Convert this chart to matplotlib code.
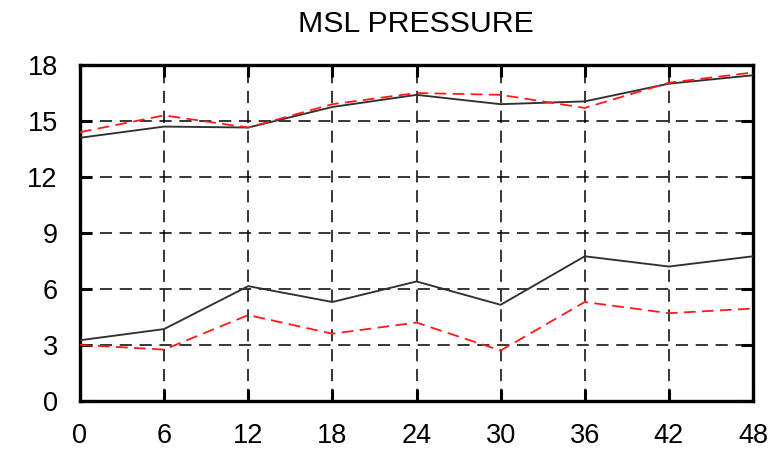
import matplotlib
matplotlib.use("Agg")
import matplotlib.pyplot as plt

plt.rcParams['font.family'] = ['Liberation Sans', 'DejaVu Sans']

# forecast hours
hours = [0, 6, 12, 18, 24, 30, 36, 42, 48]

# upper pair of curves
upper_black = [14.1, 14.7, 14.65, 15.75, 16.4, 15.9, 16.05, 17.0, 17.45]
upper_red = [14.4, 15.3, 14.65, 15.9, 16.5, 16.4, 15.7, 17.05, 17.6]

# lower pair of curves
lower_black = [3.25, 3.85, 6.15, 5.3, 6.4, 5.15, 7.75, 7.2, 7.75]
lower_red = [3.0, 2.75, 4.6, 3.6, 4.2, 2.7, 5.3, 4.7, 4.95]

xticks = [0, 6, 12, 18, 24, 30, 36, 42, 48]
yticks = [0, 3, 6, 9, 12, 15, 18]

fig = plt.figure(figsize=(7.84, 4.53), dpi=100)
ax = fig.add_axes([0.102, 0.115, 0.8585, 0.7415])

ax.plot(hours, upper_black, color='#303030', lw=1.35, zorder=3)
ax.plot(hours, lower_black, color='#303030', lw=1.35, zorder=3)
ax.plot(hours, upper_red, color='#ff1a1a', lw=1.3, ls=(0, (6.5, 3.5)), zorder=4)
ax.plot(hours, lower_red, color='#ff1a1a', lw=1.3, ls=(0, (6.5, 3.5)), zorder=4)

ax.set_xlim(0, 48)
ax.set_ylim(0, 18)
ax.set_xticks(xticks)
ax.set_yticks(yticks)
ax.set_xticklabels([str(v) for v in xticks], fontsize=19.5)
ax.set_yticklabels([str(v) for v in yticks], fontsize=19.5)

ax.grid(True, color='black', lw=1.1, ls=(0, (8, 5)), zorder=1)
ax.tick_params(direction='in', length=8.5, width=2.2, top=True, right=True,
               pad=16)
for s in ax.spines.values():
    s.set_linewidth(2.4)

fig.text(0.531, 1 - 32 / 453, 'MSL PRESSURE', ha='center', va='baseline',
         fontsize=21.8)

fig.savefig('out.png', dpi=100)
